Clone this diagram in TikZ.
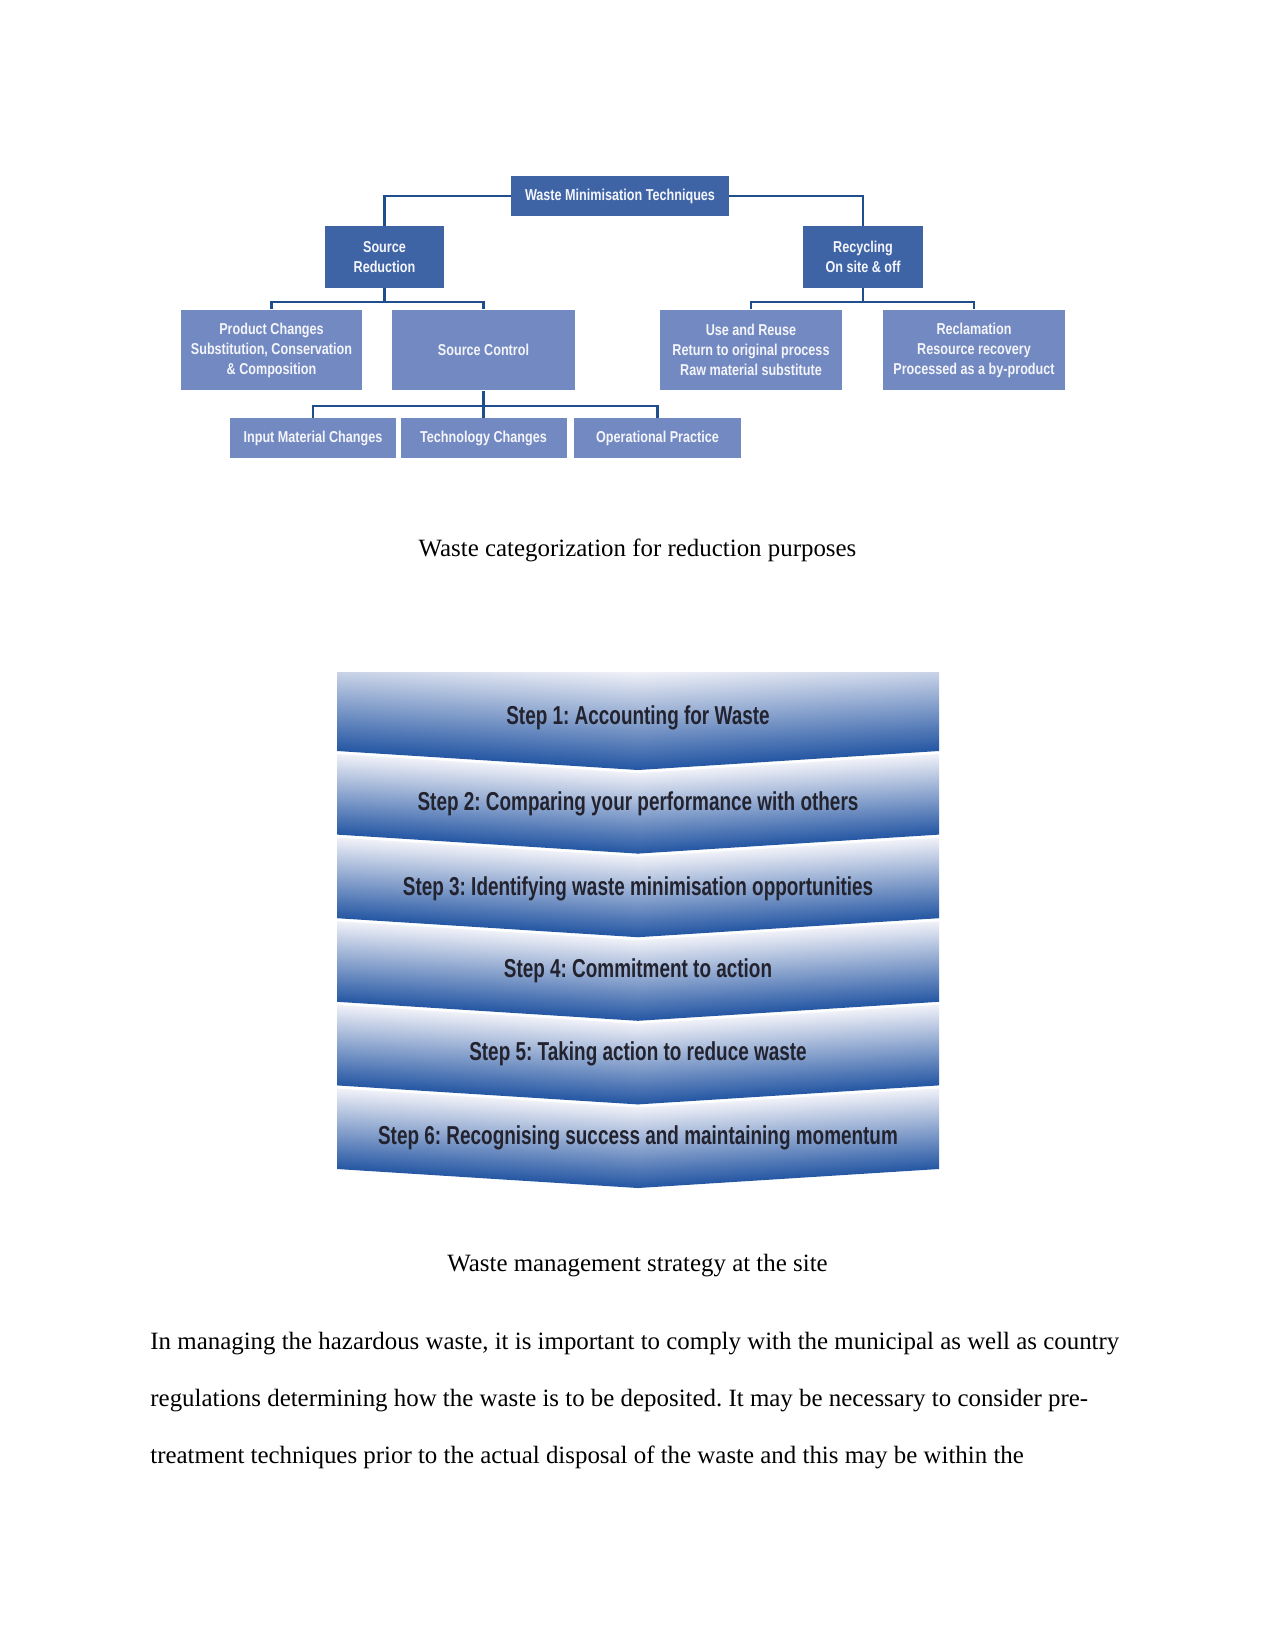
\documentclass[tikz,border=0pt]{standalone}
\usepackage{fontspec}
\setmainfont{Liberation Serif}
\newfontfamily\chartfont[FakeStretch=0.8]{Liberation Sans}
\newfontfamily\stepfont[FakeStretch=0.73]{Liberation Sans}
\usepackage{xcolor}
\definecolor{wmdark}{HTML}{3F64A6}
\definecolor{wmlight}{HTML}{7389C1}
\definecolor{wmline}{HTML}{1F4E8C}
\definecolor{wmtext}{HTML}{F4F5FA}
\definecolor{steptop}{HTML}{F0F1F8}
\definecolor{stepmid}{HTML}{9DABD5}
\definecolor{stepbot}{HTML}{2456A3}
\definecolor{steptext}{HTML}{23232F}
\usetikzlibrary{positioning}

\tikzset{
  darkbox/.style={fill=wmdark, text=wmtext, inner sep=0pt, align=center,
    font=\chartfont\bfseries\fontsize{7.6}{9.6}\selectfont},
  lightbox/.style={darkbox, fill=wmlight, minimum height=38.9pt},
  smallbox/.style={darkbox, fill=wmlight, minimum height=19.2pt},
  busline/.style={draw=wmline, line width=1pt},
  stepshade/.style={top color=steptop, middle color=stepmid, bottom color=stepbot},
  steplabel/.style={anchor=base, text=steptext,
    font=\stepfont\bfseries\fontsize{12.5}{14}\selectfont},
  caption/.style={anchor=base, font=\fontsize{12}{14}\selectfont},
  bodyline/.style={anchor=base west, inner sep=0pt, font=\fontsize{12}{14}\selectfont}
}

% one chevron band: #1 top at the sides, #2 bottom at the sides
\newcommand{\stepband}[2]{%
  \begin{scope}[transform canvas={yslant=-0.06312}]
    \shade[stepshade] (337,#1-21.27) rectangle (638.5,#2-21.27);
  \end{scope}
  \begin{scope}[transform canvas={yslant=0.06312}]
    \shade[stepshade] (637.5,#1+59.27) rectangle (939,#2+59.27);
  \end{scope}}

\begin{document}
\frenchspacing
\begin{tikzpicture}[x=0.016933cm, y=-0.016933cm]
  \useasboundingbox (0,0) rectangle (1275,1651);
  \fill[white] (0,0) rectangle (1275,1651);

  % Waste minimisation tree
  \node[darkbox, minimum width=104.6pt, minimum height=19.2pt] (wmt) at (620,196)
       {Waste Minimisation Techniques};
  \node[darkbox, minimum width=57.1pt, minimum height=29.8pt] (srcred) at (384.5,257)
       {Source\\Reduction};
  \node[darkbox, minimum width=57.6pt, minimum height=29.8pt] (recyc) at (863,257)
       {Recycling\\On site \& off};

  \node[lightbox, minimum width=86.9pt] (prodch) at (271.5,350)
       {Product Changes\\Substitution, Conservation\\\& Composition};
  \node[lightbox, minimum width=87.8pt] (srcctl) at (483.5,350) {Source Control};
  \node[lightbox, minimum width=87.4pt] (usereuse) at (751,350)
       {Use and Reuse\\Return to original process\\Raw material substitute};
  \node[lightbox, minimum width=87.4pt] (reclam) at (974,350)
       {Reclamation\\Resource recovery\\Processed as a by-product};

  \node[smallbox, minimum width=80.4pt] (inputch) at (313,438) {Input Material Changes};
  \node[smallbox, minimum width=80pt] (techch) at (483.5,438) {Technology Changes};
  \node[smallbox, minimum width=80.2pt] (opprac) at (657.5,438) {Operational Practice};

  % connectors
  \draw[busline] (wmt.west) -| (srcred.north);
  \draw[busline] (wmt.east) -| (recyc.north);
  \draw[busline] (srcred.south) -- ++(0,14) coordinate (srbus);
  \draw[busline] (prodch.north) |- (srbus) -| (srcctl.north);
  \draw[busline] (recyc.south) -- ++(0,14) coordinate (rcbus);
  \draw[busline] (usereuse.north) |- (rcbus) -| (reclam.north);
  \draw[busline] (srcctl.south) -- ++(0,15) coordinate (scbus);
  \draw[busline] (inputch.north) |- (scbus) -| (opprac.north);
  \draw[busline] (scbus) -- (techch.north);

  \node[caption] (caption1) at (637.5,556) {Waste categorization for reduction purposes};

  % Step 1 (flat top)
  \begin{scope}
    \clip (337,672) -- (939,672) -- (939,751) -- (638,770) -- (337,751) -- cycle;
    \stepband{653}{751}
  \end{scope}
  % Steps 2 to 6
  \stepband{754}{834.6}
  \stepband{837.6}{918.2}
  \stepband{921.2}{1001.8}
  \stepband{1004.8}{1085.4}
  \stepband{1088.4}{1169}

  \node[steplabel] (step1) at (638,724) {Step 1: Accounting for Waste};
  \node[steplabel] (step2) at (638,810) {Step 2: Comparing your performance with others};
  \node[steplabel] (step3) at (638,895) {Step 3: Identifying waste minimisation opportunities};
  \node[steplabel] (step4) at (638,977.2) {Step 4: Commitment to action};
  \node[steplabel] (step5) at (638,1060.8) {Step 5: Taking action to reduce waste};
  \node[steplabel] (step6) at (638,1144.4) {Step 6: Recognising success and maintaining momentum};

  \node[caption] (caption2) at (637.5,1271) {Waste management strategy at the site};

  % body text
  \node[bodyline] (line1) at (150,1349)
       {In managing the hazardous waste, it is important to comply with the municipal as well as country};
  \node[bodyline] (line2) at (150,1406)
       {regulations determining how the waste is to be deposited. It may be necessary to consider pre-};
  \node[bodyline] (line3) at (150,1463)
       {treatment techniques prior to the actual disposal of the waste and this may be within the};
\end{tikzpicture}
\end{document}
